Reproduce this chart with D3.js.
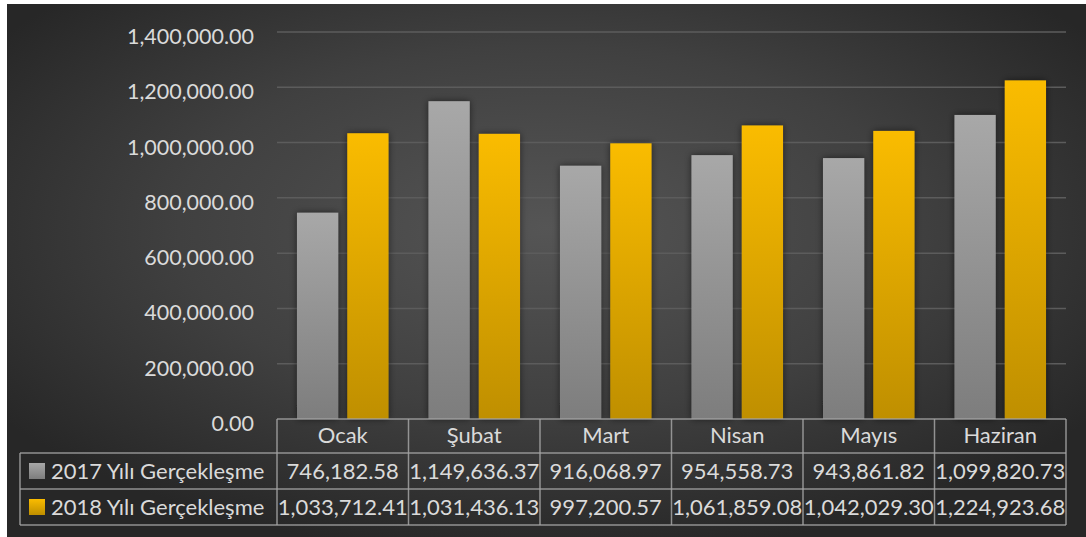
<!DOCTYPE html>
<html>
<head>
<meta charset="utf-8">
<script src="https://cdn.jsdelivr.net/npm/d3@7"></script>
<style>
html,body{margin:0;padding:0;background:#fff;}
svg{display:block;}
text{font-family:Lato,"Open Sans",sans-serif;}
</style>
</head>
<body>
<svg id="chart" width="1086" height="537"></svg>
<script>
const categories = ["Ocak","Şubat","Mart","Nisan","Mayıs","Haziran"];
const seriesNames = ["2017 Yılı Gerçekleşme","2018 Yılı Gerçekleşme"];
const values2017 = [746182.58,1149636.37,916068.97,954558.73,943861.82,1099820.73];
const values2018 = [1033712.41,1031436.13,997200.57,1061859.08,1042029.30,1224923.68];
const yTicks = [0,200000,400000,600000,800000,1000000,1200000,1400000];

const svg = d3.select("#chart");
const W = 1086, H = 537;
const defs = svg.append("defs");

// background
const bg = defs.append("radialGradient").attr("id","bg")
  .attr("cx","50%").attr("cy","42%").attr("r","62%");
bg.append("stop").attr("offset","0%").attr("stop-color","#555555");
bg.append("stop").attr("offset","55%").attr("stop-color","#404040");
bg.append("stop").attr("offset","100%").attr("stop-color","#272727");

const gGray = defs.append("linearGradient").attr("id","gGray").attr("x1",0).attr("y1",0).attr("x2",0).attr("y2",1);
gGray.append("stop").attr("offset","0%").attr("stop-color","#a8a8a8");
gGray.append("stop").attr("offset","100%").attr("stop-color","#7d7d7d");
const gGold = defs.append("linearGradient").attr("id","gGold").attr("x1",0).attr("y1",0).attr("x2",0).attr("y2",1);
gGold.append("stop").attr("offset","0%").attr("stop-color","#fabc00");
gGold.append("stop").attr("offset","100%").attr("stop-color","#bf8f00");

const sh = defs.append("filter").attr("id","shadow").attr("x","-30%").attr("y","-10%").attr("width","160%").attr("height","120%");
sh.append("feDropShadow").attr("dx",0).attr("dy",0).attr("stdDeviation",3.5)
  .attr("flood-color","#000").attr("flood-opacity",0.55);

svg.append("rect").attr("x",7).attr("y",4).attr("width",W-7).attr("height",H-4).attr("fill","url(#bg)");

const plotL = 277, plotR = 1066, plotT = 32, plotB = 419;
const y = d3.scaleLinear().domain([0,1400000]).range([plotB,plotT]);
const x0 = d3.scaleBand().domain(categories).range([plotL,plotR]).padding(0);
const bw = x0.bandwidth();
const x1 = d3.scaleBand().domain(seriesNames).range([bw*0.152, bw*0.848]).paddingInner(0.18).paddingOuter(0);

const textColor = "#dadada";
const fmt = d3.format(",.2f");

// gridlines
svg.append("g").selectAll("line").data(yTicks.filter(d=>d>0)).join("line")
  .attr("x1",plotL).attr("x2",plotR)
  .attr("y1",d=>y(d)).attr("y2",d=>y(d))
  .attr("stroke","#5c5c5c").attr("stroke-width",1.5);

// y axis labels
const yAxis = d3.axisLeft(y).tickValues(yTicks).tickFormat(fmt).tickSize(0).tickPadding(0);
const yg = svg.append("g").attr("transform","translate(254,4)").call(yAxis);
yg.select(".domain").remove();
yg.selectAll("text").attr("fill",textColor).style("font-size","21.5px").attr("dy","0.35em");

// bars
const series = [
  {name:seriesNames[0], values:values2017, fill:"url(#gGray)"},
  {name:seriesNames[1], values:values2018, fill:"url(#gGold)"}
];
const barG = svg.append("g");
series.forEach(s=>{
  barG.append("g").selectAll("rect").data(categories).join("rect")
    .attr("x",(c)=>x0(c)+x1(s.name))
    .attr("width",x1.bandwidth())
    .attr("y",(c,i)=>y(s.values[i]))
    .attr("height",(c,i)=>plotB-y(s.values[i]))
    .attr("fill",s.fill)
    .attr("filter","url(#shadow)");
});

// data table
const rowTops = [419,453,489,525];
const labelL = 20;
const tbl = svg.append("g");
const lineStyle = sel => sel.attr("stroke","#a3a3a3").attr("stroke-width",1.5).attr("stroke-opacity",0.85);

tbl.append("line").attr("x1",plotL).attr("x2",plotR).attr("y1",rowTops[0]).attr("y2",rowTops[0]).call(lineStyle);
[1,2,3].forEach(i=>{
  tbl.append("line").attr("x1",labelL).attr("x2",plotR).attr("y1",rowTops[i]).attr("y2",rowTops[i]).call(lineStyle);
});
categories.forEach(c=>{
  tbl.append("line").attr("x1",x0(c)).attr("x2",x0(c)).attr("y1",rowTops[0]).attr("y2",rowTops[3]).call(lineStyle);
});
tbl.append("line").attr("x1",plotR).attr("x2",plotR).attr("y1",rowTops[0]).attr("y2",rowTops[3]).call(lineStyle);
tbl.append("line").attr("x1",labelL).attr("x2",labelL).attr("y1",rowTops[1]).attr("y2",rowTops[3]).call(lineStyle);

tbl.append("g").selectAll("text").data(categories).join("text")
  .attr("x",c=>x0(c)+bw/2).attr("y",(rowTops[0]+rowTops[1])/2-1)
  .attr("text-anchor","middle").attr("dy","0.35em")
  .attr("fill",textColor).style("font-size","22px").text(c=>c);

series.forEach((s,si)=>{
  const cy = (rowTops[si+1]+rowTops[si+2])/2;
  tbl.append("rect").attr("x",29).attr("y",cy-8).attr("width",16).attr("height",16).attr("fill",s.fill);
  tbl.append("text").attr("x",51).attr("y",cy).attr("dy","0.35em")
    .attr("fill",textColor).style("font-size","22px").text(s.name);
  tbl.append("g").selectAll("text").data(categories).join("text")
    .attr("x",c=>x0(c)+bw/2).attr("y",cy).attr("dy","0.35em")
    .attr("text-anchor","middle").attr("fill",textColor).style("font-size","22px")
    .text((c,i)=>fmt(s.values[i]));
});
</script>
</body>
</html>
